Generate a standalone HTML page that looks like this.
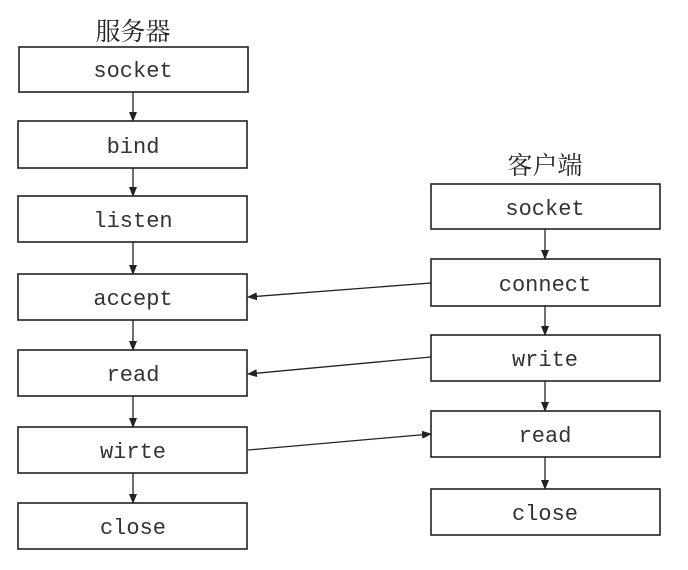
<!DOCTYPE html>
<html><head><style>
body{margin:0;background:#fff}
svg text{font-family:"Liberation Mono","Noto Sans CJK SC",monospace;font-size:22px;fill:#333;text-anchor:middle}
.t{font-family:"Liberation Serif","Noto Serif CJK SC",serif;font-size:25px;fill:#222}
rect{fill:#fff;stroke:#222;stroke-width:1.6}
line{stroke:#222;stroke-width:1.3}
</style></head><body>
<svg width="688" height="565" xmlns="http://www.w3.org/2000/svg">
<defs><marker id="a" markerWidth="10" markerHeight="8" refX="9" refY="4" orient="auto" markerUnits="userSpaceOnUse"><path d="M0,0 L10,4 L0,8 z" fill="#222"/></marker></defs>
<text class="t" x="133" y="40">服务器</text>
<text class="t" x="545" y="174">客户端</text>
<g>
<rect x="19" y="47" width="229" height="45"/><text x="133" y="77">socket</text>
<rect x="18" y="121" width="229" height="47"/><text x="133" y="153">bind</text>
<rect x="18" y="196" width="229" height="46"/><text x="133" y="227">listen</text>
<rect x="18" y="274" width="229" height="46"/><text x="133" y="305">accept</text>
<rect x="18" y="350" width="229" height="46"/><text x="133" y="381">read</text>
<rect x="18" y="427" width="229" height="46"/><text x="133" y="458">wirte</text>
<rect x="18" y="503" width="229" height="46"/><text x="133" y="534">close</text>
<line x1="133" y1="92" x2="133" y2="121" marker-end="url(#a)"/>
<line x1="133" y1="168" x2="133" y2="196" marker-end="url(#a)"/>
<line x1="133" y1="242" x2="133" y2="274" marker-end="url(#a)"/>
<line x1="133" y1="320" x2="133" y2="350" marker-end="url(#a)"/>
<line x1="133" y1="396" x2="133" y2="427" marker-end="url(#a)"/>
<line x1="133" y1="473" x2="133" y2="503" marker-end="url(#a)"/>
</g>
<g>
<rect x="431" y="184" width="229" height="45"/><text x="545" y="215">socket</text>
<rect x="431" y="259" width="229" height="47"/><text x="545" y="291">connect</text>
<rect x="431" y="335" width="229" height="46"/><text x="545" y="366">write</text>
<rect x="431" y="411" width="229" height="46"/><text x="545" y="442">read</text>
<rect x="431" y="489" width="229" height="46"/><text x="545" y="520">close</text>
<line x1="545" y1="229" x2="545" y2="259" marker-end="url(#a)"/>
<line x1="545" y1="306" x2="545" y2="335" marker-end="url(#a)"/>
<line x1="545" y1="381" x2="545" y2="411" marker-end="url(#a)"/>
<line x1="545" y1="457" x2="545" y2="489" marker-end="url(#a)"/>
</g>
<line x1="431" y1="283" x2="248" y2="297" marker-end="url(#a)"/>
<line x1="431" y1="357" x2="248" y2="374" marker-end="url(#a)"/>
<line x1="248" y1="450" x2="431" y2="434" marker-end="url(#a)"/>
</svg>
</body></html>
